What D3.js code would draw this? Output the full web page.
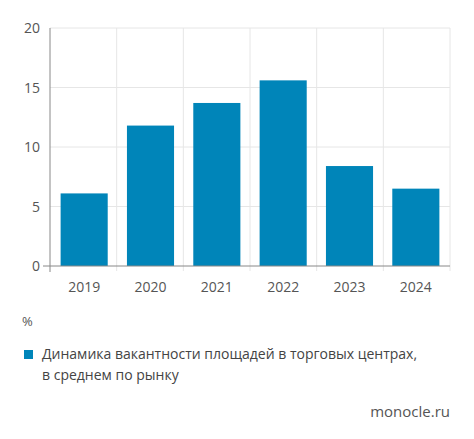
<!DOCTYPE html>
<html><head><meta charset="utf-8">
<script src="https://cdn.jsdelivr.net/npm/d3@7"></script>
<style>body{margin:0;background:#fff;font-family:"Open Sans",sans-serif;}</style>
</head><body><svg></svg>
<script>
const years = ['2019', '2020', '2021', '2022', '2023', '2024'];
const values = [6.1, 11.8, 13.7, 15.6, 8.4, 6.5];
const yTicks = [0, 5, 10, 15, 20];

const w = 474, h = 439;
const padL = 50, padR = 450, padT = 28, padB = 266;
const svg = d3.select('svg').attr('width', w).attr('height', h);

const x = d3.scaleBand().domain(years).range([padL, padR]).paddingInner(0.29).paddingOuter(0.16);
const y = d3.scaleLinear().domain([0, 20]).range([padB, padT]);
const edge = (i) => padL + i * (padR - padL) / years.length;

// grid
svg.append('g').selectAll('line').data(yTicks.slice(1)).join('line')
  .attr('x1', padL).attr('x2', padR).attr('y1', d => y(d)).attr('y2', d => y(d))
  .attr('stroke', '#e6e6e6');
svg.append('g').selectAll('line').data(d3.range(1, years.length + 1)).join('line')
  .attr('x1', edge).attr('x2', edge).attr('y1', padT).attr('y2', padB + 5)
  .attr('stroke', '#e6e6e6');

svg.selectAll('rect.bar').data(values).join('rect').attr('class', 'bar')
  .attr('x', (d, i) => x(years[i])).attr('width', x.bandwidth())
  .attr('y', d => y(d)).attr('height', d => y(0) - y(d))
  .attr('fill', '#0085b9');

// axes
svg.append('line').attr('x1', padL).attr('x2', padL).attr('y1', padT).attr('y2', padB + 6).attr('stroke', '#888');
svg.append('line').attr('x1', padL - 7).attr('x2', padR).attr('y1', padB).attr('y2', padB).attr('stroke', '#888');
svg.append('g').selectAll('text').data(yTicks).join('text')
  .attr('x', 40).attr('y', d => y(d) + 5).attr('text-anchor', 'end')
  .attr('font-size', 14).attr('fill', '#555').text(d => d);
svg.append('g').selectAll('text').data(years).join('text')
  .attr('x', d => x(d) + x.bandwidth() / 2).attr('y', 292).attr('text-anchor', 'middle')
  .attr('font-size', 14).attr('fill', '#555').text(d => d);

svg.append('text').attr('x', 22).attr('y', 326).attr('font-size', 13).attr('fill', '#555').text('%');
svg.append('rect').attr('x', 24).attr('y', 350).attr('width', 9).attr('height', 9).attr('fill', '#0085b9');
svg.append('text').attr('x', 42).attr('y', 359).attr('font-size', 14).attr('fill', '#444')
  .text('Динамика вакантности площадей в торговых центрах,');
svg.append('text').attr('x', 42).attr('y', 380).attr('font-size', 14).attr('fill', '#444')
  .text('в среднем по рынку');
svg.append('text').attr('x', 450).attr('y', 417).attr('text-anchor', 'end').attr('font-size', 15).attr('fill', '#555')
  .text('monocle.ru');
</script></body></html>
